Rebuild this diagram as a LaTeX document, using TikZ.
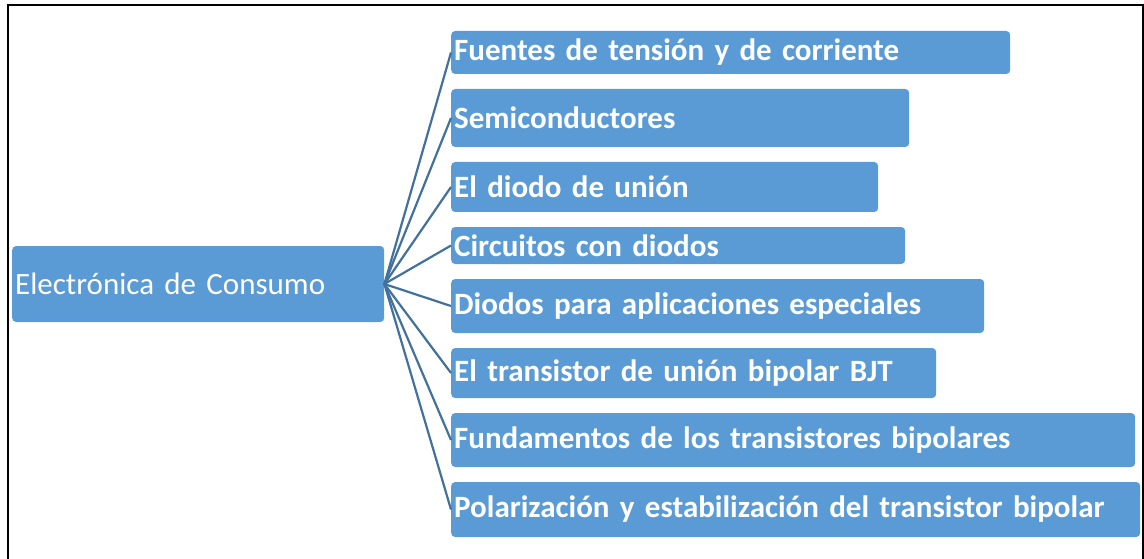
\documentclass[tikz,border=0pt]{standalone}
\usepackage{fontspec}
\setmainfont{Carlito}

\definecolor{boxblue}{HTML}{5B9BD5}
\definecolor{linkblue}{HTML}{41719C}

\tikzstyle{tree_style}=[x=1pt,y=-1pt,
  main/.style={rectangle,rounded corners=4pt,fill=boxblue,text=white,inner xsep=3pt,inner ysep=0pt,align=left,anchor=west,font=\fontsize{31}{36}\selectfont},
  topic/.style={main,font=\fontsize{31}{36}\selectfont\bfseries},
  link/.style={draw=linkblue,line width=2.2pt},
  frame/.style={draw=black,line width=2pt},]

\begin{document}
\begin{tikzpicture}[tree_style]
    \useasboundingbox (0,0) rectangle (1144,559);

    % Frame round the chart (its lower edge is cut off)
    \draw[frame] (7.5,559) -- (7.5,5) -- (1142.5,5) -- (1142.5,559);

    % Draw the root node
    \node[main, minimum height=76pt, text width=366pt] (C) at (12,284) {Electrónica de Consumo};

    % Draw the topic nodes
    \foreach \name / \ya / \yb / \r / \txt in {1/31/74/1010/Fuentes de tensión y de corriente,
                                              2/89/147/909/Semiconductores,
                                              3/162/212/878/El diodo de unión,
                                              4/227/264/905/Circuitos con diodos,
                                              5/279/333/984/Diodos para aplicaciones especiales,
                                              6/348/398/936/El transistor de unión bipolar BJT,
                                              7/413/467/1135/Fundamentos de los transistores bipolares,
                                              8/482/537/1140/Polarización y estabilización del transistor bipolar}
    {
        \pgfmathsetmacro\w{\r-457}
        \node[topic, minimum height={(\yb-\ya)*1pt}, text width=\w pt] (T-\name) at (451,{(\ya+\yb)/2}) {\txt};
    }

    % Connect the root node with every topic node
    \foreach \name in {1,...,8}
        \path (C.east) edge[link] (T-\name.west);

\end{tikzpicture}
\end{document}
